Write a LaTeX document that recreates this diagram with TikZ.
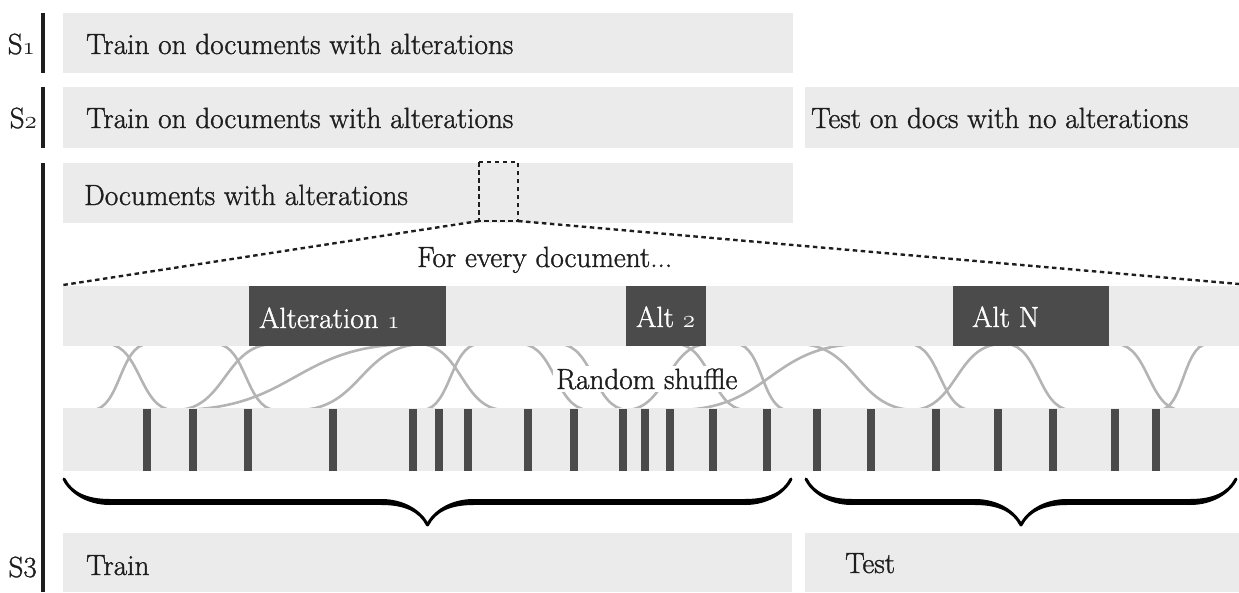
\documentclass[tikz,border=0pt]{standalone}
\usepackage{fontspec}
\setmainfont{Latin Modern Roman}[RawFeature={embolden=1.2}]
\usetikzlibrary{decorations.pathreplacing,calligraphy}
\definecolor{boxgray}{HTML}{EBEBEB}
\definecolor{darkbox}{HTML}{4B4B4B}
\definecolor{curvegray}{HTML}{B4B4B4}
\definecolor{txt}{HTML}{1E1E1E}
\newcommand{\osn}[1]{{\usefont{OML}{cmm}{m}{it}#1}}
\begin{document}
\begin{tikzpicture}[x=1pt,y=-1pt,
  every node/.style={font=\fontsize{29.2}{34}\selectfont, text=txt, inner sep=0pt},
  graybox/.style={fill=boxgray, draw=none, anchor=north west, minimum height=#1},
  graybox/.default=60pt,
  altbox/.style={fill=darkbox, draw=none, anchor=north west, minimum height=60pt},
  wtext/.style={text=white, anchor=base west},
  ltext/.style={anchor=base west},
  sbar/.style={line width=4pt, draw=txt},
  dotline/.style={line width=2.4pt, dash pattern=on 4.5pt off 3.5pt, draw=txt},
  shufcurve/.style={line width=2.6pt, draw=curvegray},
  tick/.style={fill=darkbox},
  bracestyle/.style={decorate, decoration={calligraphic brace, mirror, amplitude=46pt}, line width=6pt, pen colour=black}]
\useasboundingbox (0,0) rectangle (1239,592);

% shuffle curves (drawn first, rows cover their ends)
\foreach \t/\b in {147/93, 108/172, 217/275, 272/178, 410/180, 422/300, 420/503, 478/423,
                   522/588, 560/627, 707/627, 677/745, 860/680, 737/787, 800/913, 1000/913,
                   910/970, 1007/1070, 1117/1180, 1207/1160}
  \draw[shufcurve] (\t,344) .. controls ({(\t+\b)/2},346) and ({(\t+\b)/2},408) .. (\b,410);

% rows
\node[graybox, minimum width=730pt] (r1) at (63,13) {};
\node[graybox, minimum width=730pt, minimum height=61pt] (r2a) at (63,87) {};
\node[graybox, minimum width=434pt, minimum height=61pt] (r2b) at (805,87) {};
\node[graybox, minimum width=730pt] (r3) at (63,163) {};
\node[graybox, minimum width=1176pt] (altrow) at (63,286) {};
\node[graybox, minimum width=1176pt, minimum height=63pt] (tickrow) at (63,408) {};
\node[graybox, minimum width=729pt, minimum height=59pt] (trainbox) at (63,533) {};
\node[graybox, minimum width=434pt, minimum height=59pt] (testbox) at (805,533) {};

% alteration boxes
\node[altbox, minimum width=197pt] (alt1) at (249,286) {};
\node[altbox, minimum width=80pt] (alt2) at (626,286) {};
\node[altbox, minimum width=156pt] (altn) at (953,286) {};

% ticks
\foreach \x in {147,193,248,333,413,439,468,528,574,623,645,670,713,767,817,871,936,998,1053,1115,1156}
  \fill[tick] (\x-4,409) rectangle (\x+4,471);

% side bars and labels
\draw[sbar] (43,13) -- (43,73);
\draw[sbar] (43,87) -- (43,148);
\draw[sbar] (43,163) -- (43,592);
\node[anchor=base east] (s1) at (35,54) {S\osn{1}};
\node[anchor=base east] (s2) at (37,128) {S\osn{2}};
\node[anchor=base east] (s3) at (37,577) {S3};

% row texts
\node[ltext] (t1) at (86,54) {Train on documents with alterations};
\node[ltext] (t2) at (86,128) {Train on documents with alterations};
\node[ltext] (t2b) at (811,128) {Test on docs with no alterations};
\node[ltext] (t3) at (84,205) {Documents with alterations};
\node[ltext] (every) at (417,267) {For every document...};
\node[wtext] (a1t) at (259,328) {Alteration \osn{1}};
\node[wtext] (a2t) at (636,327) {Alt \osn{2}};
\node[wtext] (ant) at (972,327) {Alt N};
\node[anchor=base west, fill=white, inner xsep=3pt, inner ysep=3pt] (shuf) at (553,389) {Random shuffle};
\node[ltext] (traint) at (86,575) {Train};
\node[ltext] (testt) at (845,573) {Test};

% zoom box and dashed lines
\coordinate (zl) at (479,221);
\coordinate (zr) at (518,221);
\coordinate (fl) at (63,285);
\coordinate (fr) at (1239,284);
\draw[dotline] (479,162) rectangle (518,221);
\draw[dotline] (zl) -- (fl);
\draw[dotline] (zr) -- (fr);

% braces
\coordinate (b1l) at (64,479);
\coordinate (b1r) at (791,479);
\coordinate (b2l) at (806,479);
\coordinate (b2r) at (1236,479);
\draw[bracestyle] (b1l) -- (b1r);
\draw[bracestyle] (b2l) -- (b2r);
\end{tikzpicture}
\end{document}
